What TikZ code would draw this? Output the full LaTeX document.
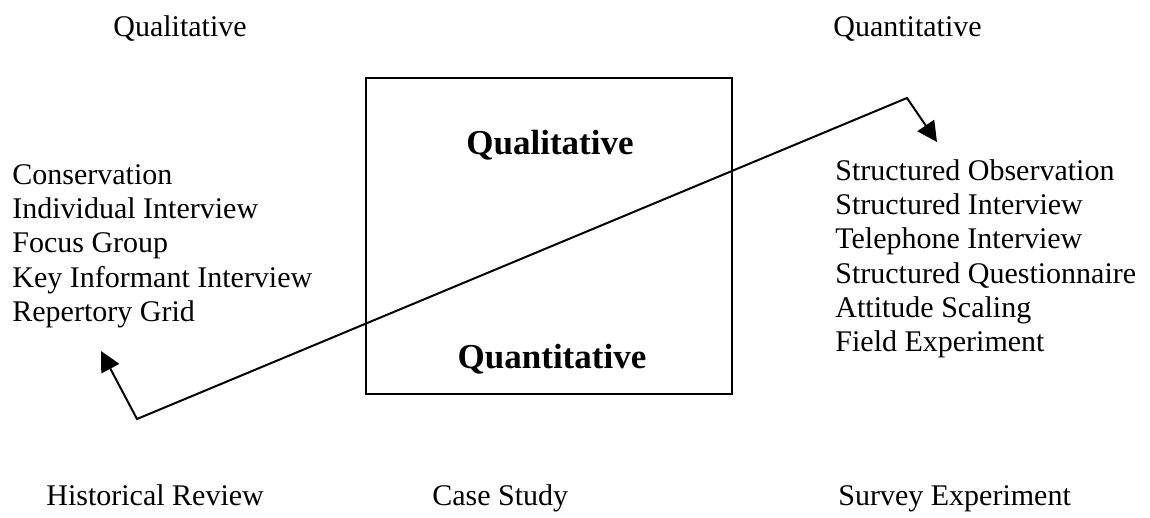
\documentclass[tikz,border=0pt]{standalone}
\usepackage{fontspec}
\setmainfont{Liberation Serif}
\usetikzlibrary{arrows.meta}
\begin{document}
\begin{tikzpicture}[x=0.5pt,y=-0.5pt,
  lbl/.style={anchor=base west, inner sep=0pt, font=\fontsize{15}{17}\selectfont},
  big/.style={anchor=base, inner sep=0pt, font=\fontsize{17.5}{20}\selectfont\bfseries},
  frame/.style={draw, line width=1pt, inner sep=0pt, minimum width=183pt, minimum height=158pt},
  link/.style={line width=1pt, line join=miter, {Triangle[length=10pt,width=10pt]}-{Triangle[length=10pt,width=10pt]}}]
\useasboundingbox (0,0) rectangle (1150,518);
% headings
\node[lbl] (hql) at (113,37) {Qualitative};
\node[lbl] (hqn) at (833,37) {Quantitative};
% central box
\node[frame] (box) at (549,236) {};
\node[big] (bql) at (550,155) {Qualitative};
\node[big] (bqn) at (552,368) {Quantitative};
% left column
\node[lbl] (l1) at (12,185) {Conservation};
\node[lbl] (l2) at (12,219) {Individual Interview};
\node[lbl] (l3) at (12,253) {Focus Group};
\node[lbl] (l4) at (12,287) {Key Informant Interview};
\node[lbl] (l5) at (12,321) {Repertory Grid};
% right column
\node[lbl] (r1) at (835,181) {Structured Observation};
\node[lbl] (r2) at (835,215) {Structured Interview};
\node[lbl] (r3) at (835,249) {Telephone Interview};
\node[lbl] (r4) at (835,283) {Structured Questionnaire};
\node[lbl] (r5) at (835,317) {Attitude Scaling};
\node[lbl] (r6) at (835,351) {Field Experiment};
% bottom labels
\node[lbl] (b1) at (46,505) {Historical Review};
\node[lbl] (b2) at (432,505) {Case Study};
\node[lbl] (b3) at (838,505) {Survey Experiment};
% connector
\coordinate (tl) at (101,351);
\coordinate (cl) at (137,419);
\coordinate (cr) at (907,98);
\coordinate (tr) at (937,142);
\draw[link] (tl) -- (cl) -- (cr) -- (tr);
\end{tikzpicture}
\end{document}
